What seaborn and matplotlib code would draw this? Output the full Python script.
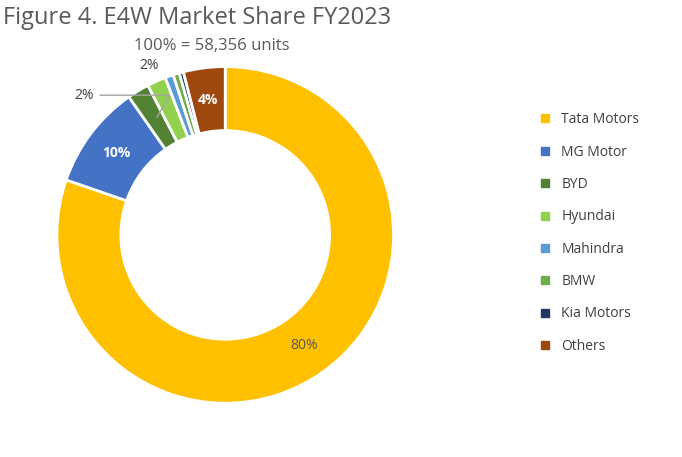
import numpy as np
import matplotlib
matplotlib.use("Agg")
import matplotlib.pyplot as plt
import seaborn as sns

brands = ["Tata Motors", "MG Motor", "BYD", "Hyundai", "Mahindra", "BMW", "Kia Motors", "Others"]
shares = [80.3, 10.0, 2.1, 1.8, 0.8, 0.6, 0.4, 4.0]
colors = ["#FFC000", "#4472C4", "#548235", "#92D050", "#5B9BD5", "#70AD47", "#203864", "#9E480E"]
labels = ["80%", "10%", "2%", "2%", "", "", "", "4%"]

sns.set_theme(style="white")
plt.rcParams['font.family'] = ['Open Sans', 'DejaVu Sans']

fig = plt.figure(figsize=(6.82, 4.57), dpi=100)
ax = fig.add_axes([0.081, 0.114, 0.4985, 0.744])
wedges, _ = ax.pie(shares, colors=colors, startangle=90, counterclock=False,
                   wedgeprops=dict(width=0.38, edgecolor="white", linewidth=2))
ax.set_aspect("equal")
ax.set_xlim(-1.01, 1.01)
ax.set_ylim(-1.01, 1.01)

def mid(i):
    w = wedges[i]
    return np.deg2rad((w.theta1 + w.theta2) / 2)

for i, (col, bold) in {0: ("#595959", False), 1: ("white", True), 7: ("white", True)}.items():
    a = mid(i); r = 0.81
    ax.text(r*np.cos(a), r*np.sin(a), labels[i], ha="center", va="center",
            color=col, fontsize=10, fontweight="bold" if bold else "normal")
a = mid(2)
ax.annotate(labels[2], xy=(0.8*np.cos(a), 0.8*np.sin(a)), xytext=(-0.78, 0.83),
            ha="right", va="center", fontsize=10, color="#404040",
            arrowprops=dict(arrowstyle="-", color="#A6A6A6", lw=1,
                            connectionstyle="angle,angleA=0,angleB=60"))
a = mid(3)
ax.text(1.1*np.cos(a), 1.1*np.sin(a), labels[3], ha="center", va="center",
        fontsize=10, color="#404040")

fig.text(0.005, 0.96, "Figure 4. E4W Market Share FY2023", fontsize=17, color="#595959",
         ha="left", va="center")
fig.text(0.31, 0.9, "100% = 58,356 units", fontsize=12, color="#595959", ha="center", va="center")

handles = [plt.Line2D([0], [0], marker="s", linestyle="", markersize=6,
                      markerfacecolor=c, markeredgecolor=c) for c in colors]
fig.legend(handles, brands, loc="center left", bbox_to_anchor=(0.76, 0.49), frameon=False,
           fontsize=10, labelspacing=1.25, handletextpad=0.2, labelcolor="#404040")

fig.savefig("out.png", dpi=100)
